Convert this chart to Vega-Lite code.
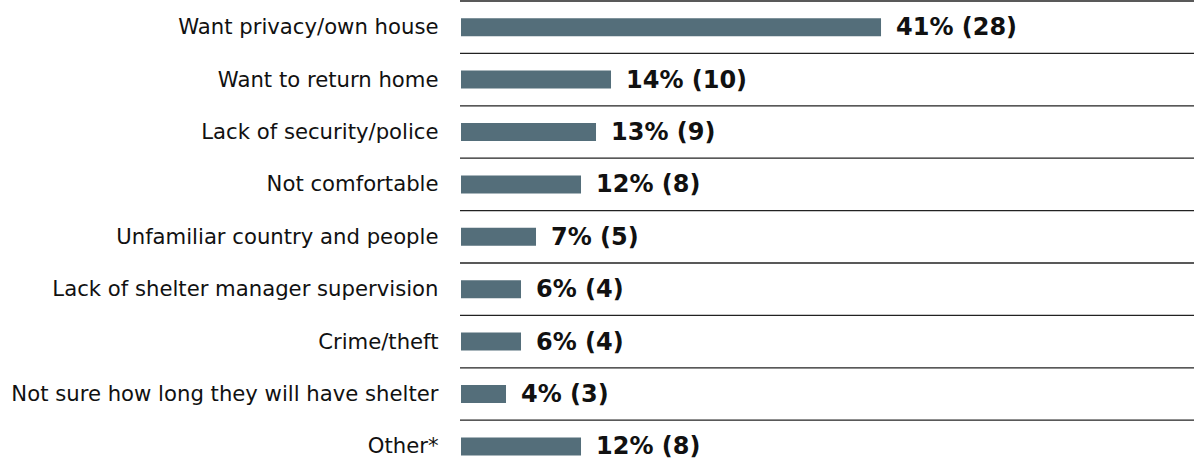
{
  "$schema": "https://vega.github.io/schema/vega-lite/v6.json",
  "autosize": {"type": "none"},
  "width": 734,
  "height": 471.6,
  "padding": {"left": 460, "top": 1, "right": 0, "bottom": 0},
  "background": "white",
  "config": {"view": {"stroke": null}},
  "data": {"values": [
    {"reason": "Want privacy/own house", "count": 28, "label": "41% (28)"},
    {"reason": "Want to return home", "count": 10, "label": "14% (10)"},
    {"reason": "Lack of security/police", "count": 9, "label": "13% (9)"},
    {"reason": "Not comfortable", "count": 8, "label": "12% (8)"},
    {"reason": "Unfamiliar country and people", "count": 5, "label": "7% (5)"},
    {"reason": "Lack of shelter manager supervision", "count": 4, "label": "6% (4)"},
    {"reason": "Crime/theft", "count": 4, "label": "6% (4)"},
    {"reason": "Not sure how long they will have shelter", "count": 3, "label": "4% (3)"},
    {"reason": "Other*", "count": 8, "label": "12% (8)"}
  ]},
  "encoding": {
    "y": {"field": "reason", "type": "nominal", "sort": null,
      "scale": {"paddingInner": 0, "paddingOuter": 0},
      "axis": {"title": null, "domain": false, "ticks": false, "labelPadding": 22, "labelOffset": 1,
        "labelFont": "DejaVu Sans", "labelFontSize": 21.2, "labelColor": "#111111", "labelLimit": 500}}
  },
  "layer": [
    {
      "mark": {"type": "rule", "color": "#222222", "strokeWidth": 1.3},
      "encoding": {"y": {"field": "reason", "type": "nominal", "sort": null, "bandPosition": 0}}
    },
    {
      "mark": {"type": "bar", "size": 18, "color": "#546e7a", "xOffset": 1},
      "encoding": {"x": {"field": "count", "type": "quantitative",
        "scale": {"domain": [0, 48.93], "nice": false, "zero": true}, "axis": null}}
    },
    {
      "mark": {"type": "text", "align": "left", "baseline": "middle", "dx": 16, "dy": 1,
        "font": "DejaVu Sans", "fontWeight": "bold", "fontSize": 24, "color": "#111111"},
      "encoding": {"x": {"field": "count", "type": "quantitative"}, "text": {"field": "label"}}
    }
  ]
}
